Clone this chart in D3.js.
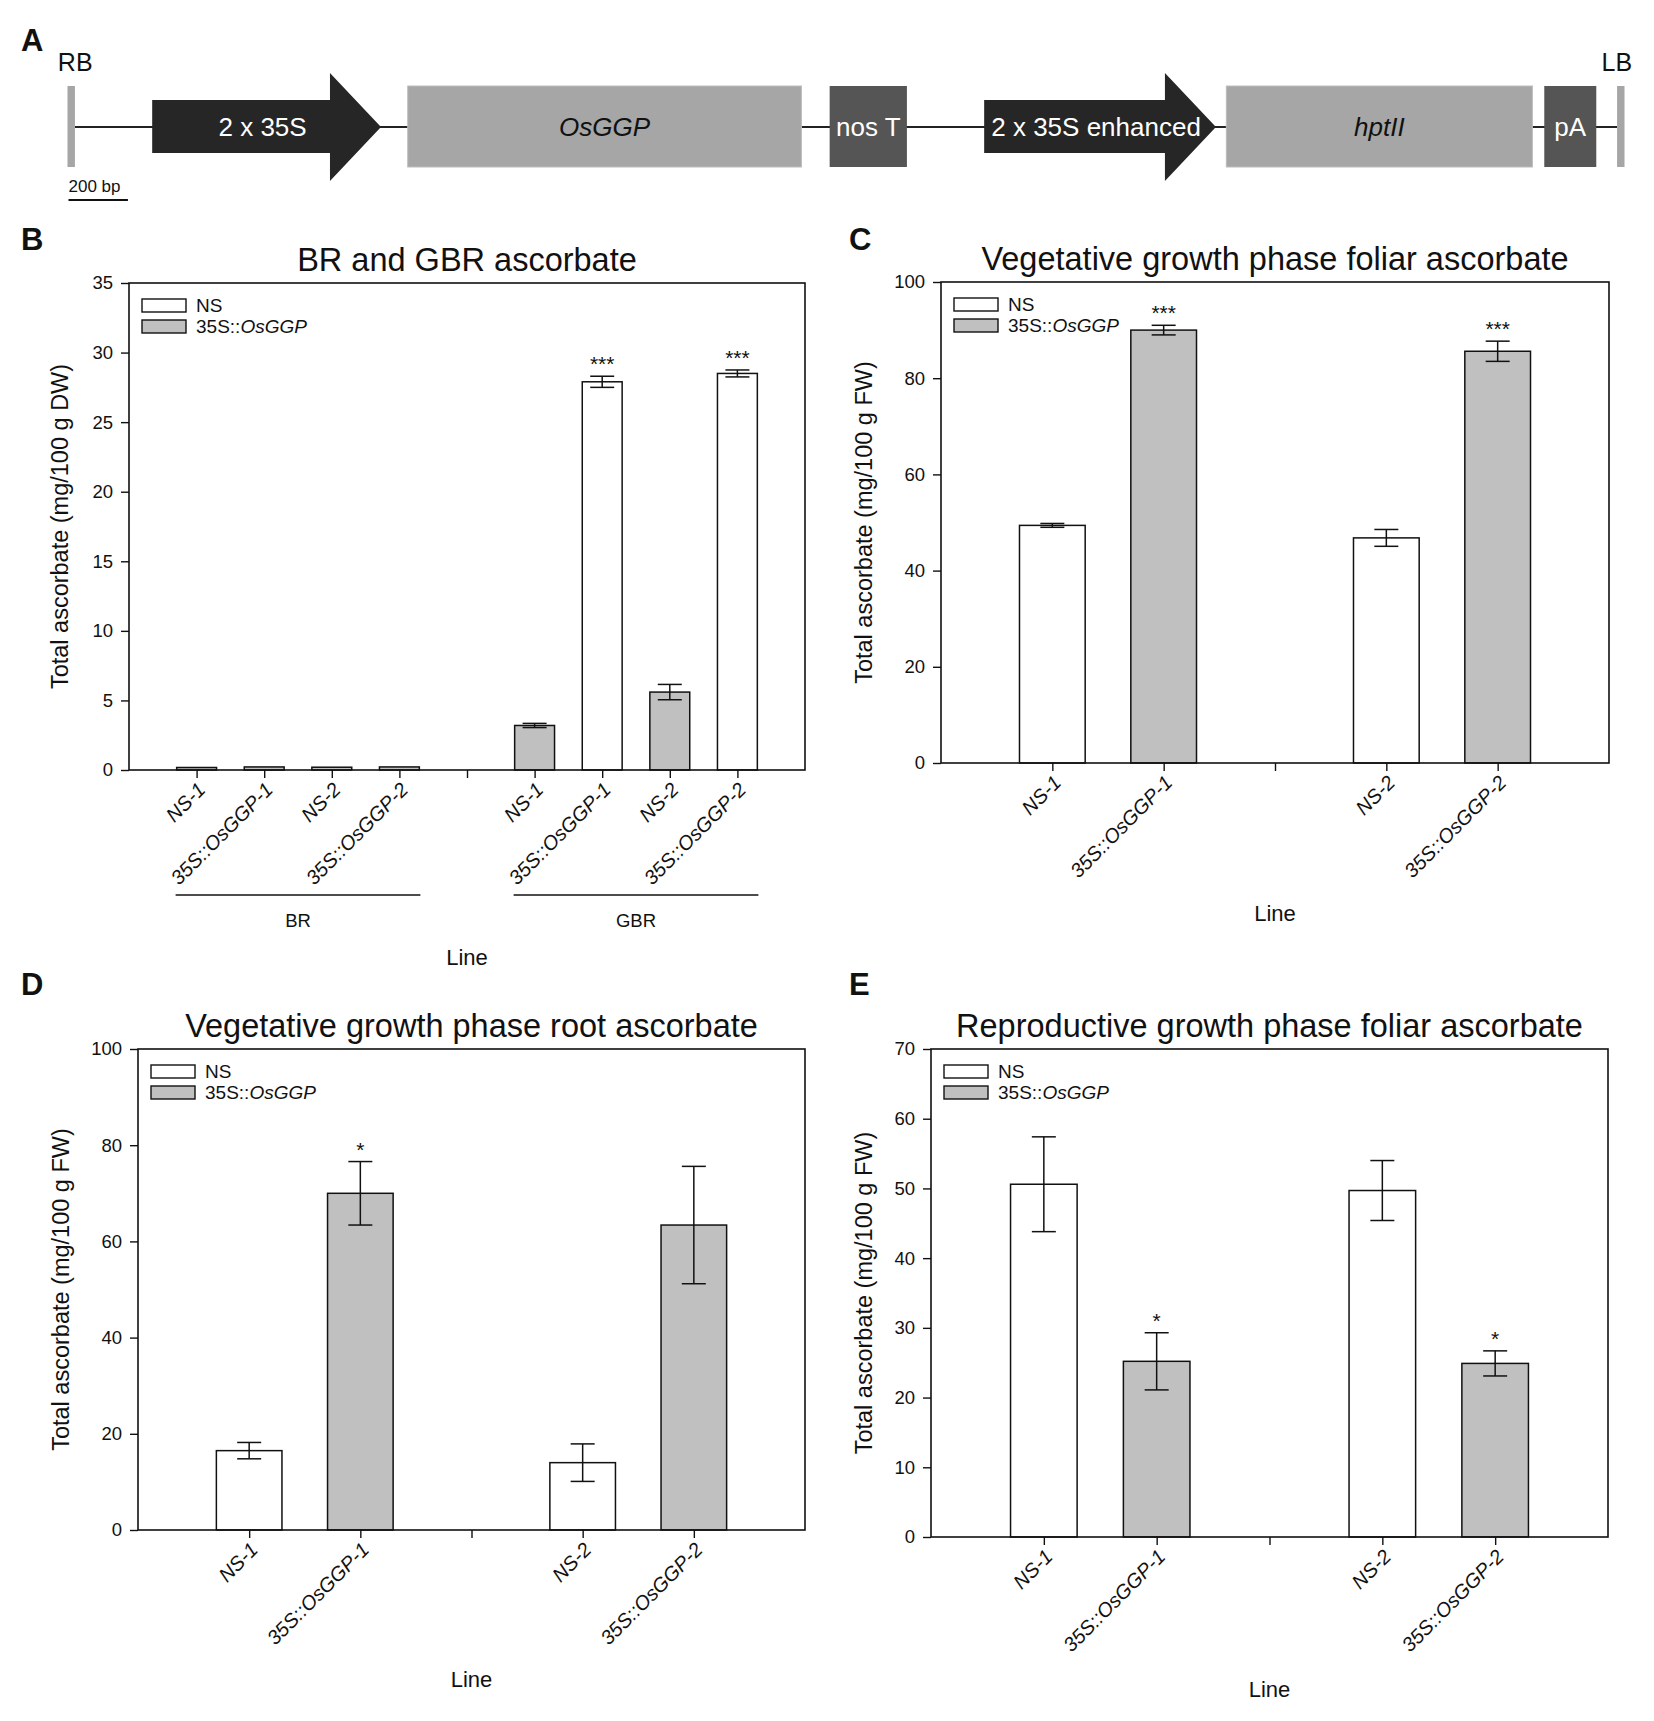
<!DOCTYPE html>
<html>
<head>
<meta charset="utf-8">
<title>OsGGP construct and ascorbate</title>
<style>
  body { margin: 0; background: #fff; }
  text { font-family: "Liberation Sans", Arial, sans-serif; fill: #111; }
  .construct text { font-family: "Liberation Sans Narrow", "Liberation Sans", sans-serif; }
  .letter { font-weight: bold; font-size: 31px; }
  .tick text { font-size: 18.5px; }
  .tick line { stroke: #111; stroke-width: 1.4; }
</style>
</head>
<body>
<script src="https://cdn.jsdelivr.net/npm/d3@7"></script>
<div id="chart"></div>
<script>
// ---- panel A: T-DNA construct (positions in bp) ----
const featureNames = ["RB", "2 x 35S", "OsGGP", "nos T", "2 x 35S enhanced", "hptII", "pA", "LB"];
const featureStart = [0, 285, 1145, 2565, 3085, 3900, 4970, 5215];
const featureEnd   = [25, 1055, 2470, 2825, 3865, 4930, 5145, 5240];
const featureKind  = ["border", "promoter", "gene", "terminator", "promoter", "gene", "terminator", "border"];
const scaleBarBp = 200;

// ---- panel B: BR and GBR ascorbate ----
const bLines  = ["NS-1", "35S::OsGGP-1", "NS-2", "35S::OsGGP-2", "", "NS-1", "35S::OsGGP-1", "NS-2", "35S::OsGGP-2"];
const bValues = [0.18, 0.22, 0.2, 0.22, null, 3.2, 27.9, 5.6, 28.5];
const bErrors = [0.02, 0.02, 0.02, 0.02, null, 0.15, 0.4, 0.55, 0.25];
const bGrey   = [true, true, true, true, null, true, false, true, false];
const bStars  = ["", "", "", "", "", "", "***", "", "***"];
const bYTicks = [0, 5, 10, 15, 20, 25, 30, 35];
const bGroupNames = ["BR", "GBR"];
const bGroupSpan  = [[0, 3], [5, 8]];

// ---- panel C: vegetative foliar ----
const cLines  = ["NS-1", "35S::OsGGP-1", "", "NS-2", "35S::OsGGP-2"];
const cValues = [49.4, 90.0, null, 46.8, 85.6];
const cErrors = [0.4, 1.0, null, 1.75, 2.1];
const cGrey   = [false, true, null, false, true];
const cStars  = ["", "***", "", "", "***"];
const cYTicks = [0, 20, 40, 60, 80, 100];

// ---- panel D: vegetative root ----
const dLines  = ["NS-1", "35S::OsGGP-1", "", "NS-2", "35S::OsGGP-2"];
const dValues = [16.5, 70.0, null, 14.0, 63.4];
const dErrors = [1.7, 6.6, null, 3.9, 12.2];
const dGrey   = [false, true, null, false, true];
const dStars  = ["", "*", "", "", ""];
const dYTicks = [0, 20, 40, 60, 80, 100];

// ---- panel E: reproductive foliar ----
const eLines  = ["NS-1", "35S::OsGGP-1", "", "NS-2", "35S::OsGGP-2"];
const eValues = [50.6, 25.2, null, 49.7, 24.9];
const eErrors = [6.8, 4.1, null, 4.3, 1.8];
const eGrey   = [false, true, null, false, true];
const eStars  = ["", "*", "", "", "*"];
const eYTicks = [0, 10, 20, 30, 40, 50, 60, 70];

const width = 1654;
const height = 1721;
const GREY = "#c0c0c0";

const svg = d3.select("#chart").append("svg")
    .attr("width", width)
    .attr("height", height);

svg.append("rect").attr("width", width).attr("height", height).attr("fill", "#fff");

function letter(t, x, y) {
    svg.append("text").attr("class", "letter").attr("x", x).attr("y", y).text(t);
}

// ---------- panel A ----------
function drawConstruct() {
    const g = svg.append("g").attr("class", "construct");
    const x = d3.scaleLinear().domain([0, 5240]).range([67.5, 1624.5]);
    const midY = 127, boxTop = 86, boxH = 81;
    const head = 51;

    g.append("line")
        .attr("x1", x(featureEnd[0])).attr("x2", x(featureStart[7]))
        .attr("y1", midY).attr("y2", midY)
        .attr("stroke", "#222").attr("stroke-width", 2);

    featureNames.forEach((name, i) => {
        const x0 = x(featureStart[i]), x1 = x(featureEnd[i]);
        const kind = featureKind[i];
        if (kind == "promoter") {
            const pts = [[x0, 100], [x1 - head, 100], [x1 - head, 73], [x1, midY],
                         [x1 - head, 181], [x1 - head, 153], [x0, 153]];
            g.append("polygon").attr("points", pts.map(p => p.join(",")).join(" "))
                .attr("fill", "#262626");
            g.append("text").attr("x", (x0 + x1) / 2 - 4).attr("y", midY).attr("dy", "0.35em")
                .attr("text-anchor", "middle").attr("font-size", 26)
                .style("fill", "#fff").text(name);
        } else {
            g.append("rect").attr("x", x0).attr("y", boxTop)
                .attr("width", x1 - x0).attr("height", boxH)
                .attr("fill", kind == "terminator" ? "#555" : "#a6a6a6")
                .attr("stroke", kind == "gene" ? "#bdbdbd" : "none");
            if (kind == "border") {
                g.append("text").attr("x", (x0 + x1) / 2 + (i == 0 ? 4 : -4)).attr("y", 71)
                    .attr("text-anchor", "middle").attr("font-size", 25).text(name);
            } else {
                g.append("text").attr("x", (x0 + x1) / 2).attr("y", midY).attr("dy", "0.35em")
                    .attr("text-anchor", "middle").attr("font-size", 26)
                    .style("font-style", kind == "gene" ? "italic" : null)
                    .style("fill", kind == "terminator" ? "#fff" : "#111")
                    .text(name);
            }
        }
    });

    // scale bar
    g.append("line").attr("x1", x(0) + 1).attr("x2", x(scaleBarBp) + 1)
        .attr("y1", 200).attr("y2", 200).attr("stroke", "#111").attr("stroke-width", 2);
    g.append("text").attr("x", x(0) + 1).attr("y", 192).attr("font-size", 17)
        .text(scaleBarBp + " bp");
}

// ---------- bar panels ----------
function drawPanel(p) {
    const g = svg.append("g");
    const n = p.lines.length;
    const x = d3.scaleLinear().domain([0, n + 1]).range([p.left, p.right]);
    const y = d3.scaleLinear().domain([0, d3.max(p.yTicks)]).range([p.bottom, p.top]);
    const step = x(1) - x(0);
    const bw = step * 0.59;
    const cap = 12;
    const idx = d3.range(n).filter(i => p.values[i] != null);

    g.selectAll(".bar").data(idx).join("rect")
        .attr("class", "bar")
        .attr("x", i => x(i + 1) - bw / 2)
        .attr("y", i => y(p.values[i]))
        .attr("width", bw)
        .attr("height", i => y(0) - y(p.values[i]))
        .attr("fill", i => p.grey[i] ? GREY : "#fff")
        .attr("stroke", "#111").attr("stroke-width", 1.5);

    const err = g.selectAll(".err").data(idx.filter(i => y(p.values[i] - p.errors[i]) - y(p.values[i] + p.errors[i]) > 3))
        .join("g").attr("class", "err")
        .attr("stroke", "#111").attr("stroke-width", 1.5);
    err.append("line")
        .attr("x1", i => x(i + 1)).attr("x2", i => x(i + 1))
        .attr("y1", i => y(p.values[i] - p.errors[i]))
        .attr("y2", i => y(p.values[i] + p.errors[i]));
    err.append("line")
        .attr("x1", i => x(i + 1) - cap).attr("x2", i => x(i + 1) + cap)
        .attr("y1", i => y(p.values[i] + p.errors[i]))
        .attr("y2", i => y(p.values[i] + p.errors[i]));
    err.append("line")
        .attr("x1", i => x(i + 1) - cap).attr("x2", i => x(i + 1) + cap)
        .attr("y1", i => y(p.values[i] - p.errors[i]))
        .attr("y2", i => y(p.values[i] - p.errors[i]));

    g.selectAll(".star").data(idx.filter(i => p.stars[i])).join("text")
        .attr("class", "star")
        .attr("x", i => x(i + 1)).attr("y", i => y(p.values[i] + p.errors[i]) - 5)
        .attr("text-anchor", "middle").attr("font-size", 21)
        .text(i => p.stars[i]);

    // axes
    const yAxis = d3.axisLeft(y).tickValues(p.yTicks).tickSize(8).tickPadding(8).tickSizeOuter(0);
    g.append("g").attr("transform", `translate(${p.left},0)`).call(yAxis)
        .call(a => a.select(".domain").remove());
    const xAxis = d3.axisBottom(x).tickValues(d3.range(1, n + 1)).tickSize(8).tickFormat("").tickSizeOuter(0);
    g.append("g").attr("transform", `translate(0,${p.bottom})`).call(xAxis)
        .call(a => a.select(".domain").remove());

    g.append("rect").attr("x", p.left).attr("y", p.top)
        .attr("width", p.right - p.left).attr("height", p.bottom - p.top)
        .attr("fill", "none").attr("stroke", "#111").attr("stroke-width", 1.6);

    // rotated category labels
    g.selectAll(".xlab").data(d3.range(n).filter(i => p.lines[i])).join("text")
        .attr("class", "xlab")
        .attr("transform", i => `translate(${x(i + 1) + 5},${p.bottom + 16}) rotate(-45)`)
        .attr("text-anchor", "end").attr("dy", "0.35em")
        .attr("font-size", 20).style("font-style", "italic")
        .text(i => p.lines[i]);

    // title, axis titles
    g.append("text").attr("x", (p.left + p.right) / 2).attr("y", p.top - 12)
        .attr("text-anchor", "middle").attr("font-size", 32.5).text(p.title);
    g.append("text")
        .attr("transform", `translate(${p.yLabelX},${(p.top + p.bottom) / 2}) rotate(-90)`)
        .attr("text-anchor", "middle").attr("dy", "0.35em").attr("font-size", 23.5)
        .text(p.yLabel);
    g.append("text").attr("x", (p.left + p.right) / 2).attr("y", p.lineY)
        .attr("text-anchor", "middle").attr("dy", "0.35em").attr("font-size", 22).text("Line");

    // legend
    const lg = g.append("g").attr("transform", `translate(${p.left + 13},${p.top + 16})`);
    [["NS", false], ["35S::", true]].forEach((d, k) => {
        lg.append("rect").attr("x", 0).attr("y", k * 21).attr("width", 44).attr("height", 13)
            .attr("fill", d[1] ? GREY : "#fff").attr("stroke", "#111").attr("stroke-width", 1.4);
        const t = lg.append("text").attr("x", 54).attr("y", k * 21 + 6.5).attr("dy", "0.36em")
            .attr("font-size", 19).text(d[0]);
        if (d[1]) t.append("tspan").style("font-style", "italic").text("OsGGP");
    });

    // group brackets (panel B)
    if (p.groups) {
        p.groups.forEach((name, k) => {
            const [a, b] = p.groupSpan[k];
            g.append("line").attr("x1", x(a + 1) - 21).attr("x2", x(b + 1) + 21)
                .attr("y1", p.groupY).attr("y2", p.groupY)
                .attr("stroke", "#111").attr("stroke-width", 1.4);
            g.append("text").attr("x", (x(a + 1) + x(b + 1)) / 2).attr("y", p.groupY + 26)
                .attr("text-anchor", "middle").attr("dy", "0.35em").attr("font-size", 18.5).text(name);
        });
    }
}

letter("A", 21, 51);
drawConstruct();

letter("B", 21, 250);
drawPanel({
    left: 129, right: 805, top: 283, bottom: 770,
    lines: bLines, values: bValues, errors: bErrors, grey: bGrey, stars: bStars, yTicks: bYTicks,
    title: "BR and GBR ascorbate", yLabel: "Total ascorbate (mg/100 g DW)", yLabelX: 60,
    lineY: 957, groups: bGroupNames, groupSpan: bGroupSpan, groupY: 895
});

letter("C", 849, 250);
drawPanel({
    left: 941, right: 1609, top: 282, bottom: 763,
    lines: cLines, values: cValues, errors: cErrors, grey: cGrey, stars: cStars, yTicks: cYTicks,
    title: "Vegetative growth phase foliar ascorbate", yLabel: "Total ascorbate (mg/100 g FW)", yLabelX: 864,
    lineY: 913
});

letter("D", 21, 995);
drawPanel({
    left: 138, right: 805, top: 1049, bottom: 1530,
    lines: dLines, values: dValues, errors: dErrors, grey: dGrey, stars: dStars, yTicks: dYTicks,
    title: "Vegetative growth phase root ascorbate", yLabel: "Total ascorbate (mg/100 g FW)", yLabelX: 61,
    lineY: 1679
});

letter("E", 849, 995);
drawPanel({
    left: 931, right: 1608, top: 1049, bottom: 1537,
    lines: eLines, values: eValues, errors: eErrors, grey: eGrey, stars: eStars, yTicks: eYTicks,
    title: "Reproductive growth phase foliar ascorbate", yLabel: "Total ascorbate (mg/100 g FW)", yLabelX: 864,
    lineY: 1689
});
</script>
</body>
</html>
